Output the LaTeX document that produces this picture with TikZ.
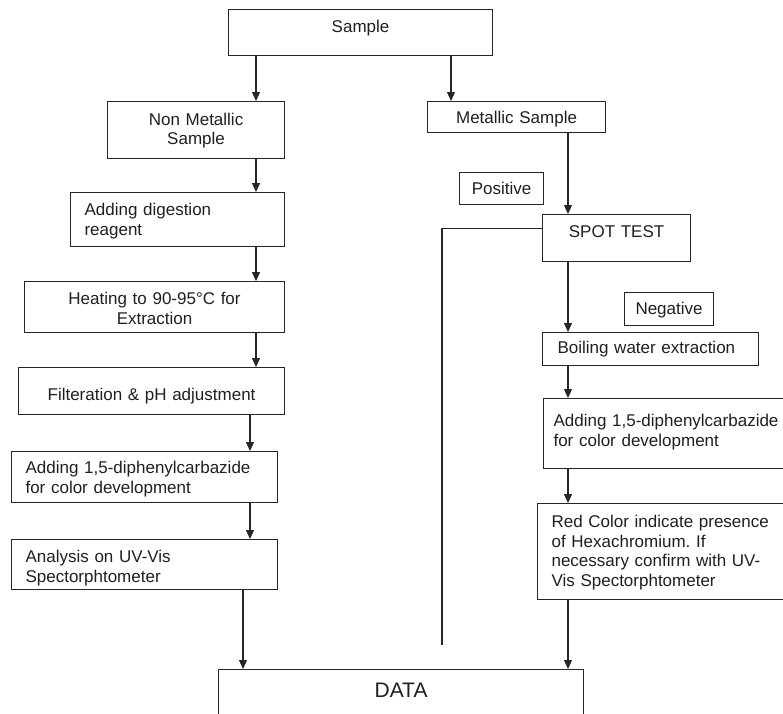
\documentclass[tikz,border=0pt]{standalone}
\usepackage{fontspec}
\setmainfont{Liberation Sans}
\usetikzlibrary{arrows.meta}
\frenchspacing
\begin{document}
\begin{tikzpicture}[x=1pt,y=-1pt,every node/.style={draw=black!85,line width=1.1pt,text=black!88,font=\fontsize{17}{19.5}\selectfont,anchor=north west,inner ysep=0pt,inner xsep=0pt,align=center},
  lft/.style={align=left,inner xsep=#1pt},
  hd/.style 2 args={text height=#1pt,text depth=#2pt},
  arr/.style={draw=black!85,line width=1.1pt,-{Triangle[length=9pt,width=8pt]}}]
\useasboundingbox (0,0) rectangle (783,713);
\clip (0,0) rectangle (783,713);
% left branch
\node[text width=264pt,hd={23}{23}] (sample) at (228,9) {Sample};
\node[text width=177pt,hd={23.5}{33.5}] (nonmet) at (107,101) {Non Metallic\\Sample};
\node[lft=14,text width=186pt,hd={23}{31}] (digest) at (70,192) {Adding digestion\\reagent};
\node[text width=260pt,hd={23}{28}] (heat) at (24,281) {Heating to 90-95°C for\\Extraction};
\node[text width=266pt,hd={33}{14}] (filter) at (18,367) {Filteration \& pH adjustment};
\node[lft=14,text width=238pt,hd={22}{29}] (dpcl) at (11,451) {Adding 1,5-diphenylcarbazide\\for color development};
\node[lft=14,text width=238pt,hd={23}{27}] (uvvis) at (11,539) {Analysis on UV-Vis\\Spectorphtometer};
\node[text width=365pt,hd={28}{50},font=\fontsize{21}{24}\selectfont] (data) at (218,669) {DATA};
% right branch
\node[text width=178pt,hd={22}{9}] (metal) at (427,101) {Metallic Sample};
\node[text width=84pt,hd={22}{10}] (pos) at (459,172) {Positive};
\node[text width=148pt,hd={23}{24}] (spot) at (542,214) {SPOT TEST};
\node[text width=89pt,hd={22}{11}] (neg) at (624,292) {Negative};
\node[lft=15,text width=186pt,hd={21}{12}] (boil) at (542,332) {Boiling water extraction};
\node[lft=10,text width=240pt,hd={28}{42}] (dpcr) at (543,398) {Adding 1,5-diphenylcarbazide\\for color development};
\node[lft=14,text width=240pt,hd={24}{72}] (red) at (537,503) {Red Color indicate presence\\of Hexachromium. If\\necessary confirm with UV-\\Vis Spectorphtometer};
% arrow columns
\coordinate (ca) at (256,0);
\coordinate (cb) at (250,0);
\coordinate (cc) at (243,0);
\coordinate (cd) at (451,0);
\coordinate (ce) at (568,0);
\coordinate (posend) at (442,645);
\foreach \u/\v/\c in {sample/nonmet/ca,nonmet/digest/ca,digest/heat/ca,heat/filter/ca,filter/dpcl/cb,dpcl/uvvis/cb,uvvis/data/cc,sample/metal/cd,metal/spot/ce,spot/boil/ce,boil/dpcr/ce,dpcr/red/ce,red/data/ce}
  \draw[arr] (\u.south -| \c) -- (\v.north -| \c);
\draw[draw=black!85,line width=1.1pt] ([yshift=10pt]spot.west) -| (posend);
\end{tikzpicture}
\end{document}
